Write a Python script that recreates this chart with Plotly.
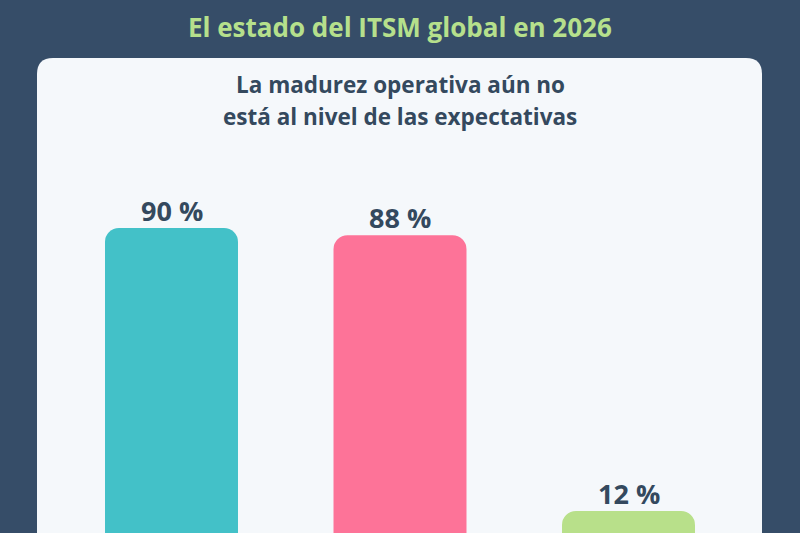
import plotly.graph_objects as go

categories = ["A", "B", "C"]
values = [90, 88, 12]
labels = ["90 %", "88 %", "12 %"]
colors = ["#43c1c8", "#fd7398", "#b8e08a"]

title_text = "El estado del ITSM global en 2026"
subtitle_lines = ["La madurez operativa aún no", "está al nivel de las expectativas"]

W, H = 800, 533
BG = "#364d68"
PANEL = "#f5f8fb"
DARK = "#34495e"

fig = go.Figure()
fig.add_trace(go.Bar(
    x=list(range(len(categories))),
    y=values,
    marker=dict(color=colors, cornerradius=14, line=dict(width=0)),
    width=0.582,
    hoverinfo="skip",
    cliponaxis=True,
))

for i, (v, lab) in enumerate(zip(values, labels)):
    fig.add_annotation(x=i, y=v, text=lab, showarrow=False, xref="x", yref="y",
                       xanchor="center", yanchor="middle", yshift=18,
                       font=dict(family="Open Sans", size=27, color=DARK, weight="bold"))

# panel with rounded top corners (paper coords)
x0, x1 = 37 / W, 762 / W
y1 = 1 - 58 / H
y0 = -0.05
rx, ry = 16 / W, 16 / H
path = (f"M {x0},{y0} L {x0},{y1-ry} Q {x0},{y1} {x0+rx},{y1} "
        f"L {x1-rx},{y1} Q {x1},{y1} {x1},{y1-ry} L {x1},{y0} Z")
fig.add_shape(type="path", path=path, xref="paper", yref="paper",
              fillcolor=PANEL, line=dict(width=0), layer="below")

fig.add_annotation(text=title_text, xref="paper", yref="paper",
                   x=0.5, y=1 - 27 / H, showarrow=False, xanchor="center", yanchor="middle",
                   font=dict(family="Open Sans", size=26, color="#b6e08c", weight="bold"))
for yy, line in zip([84, 116], subtitle_lines):
    fig.add_annotation(text=line, xref="paper", yref="paper",
                       x=0.5, y=1 - yy / H, showarrow=False, xanchor="center", yanchor="middle",
                       font=dict(family="Open Sans", size=22.5, color=DARK, weight="bold"))

px_per = (511 - 228) / (90 - 12)
base_px = 228 + 90 * px_per
ymax = base_px / px_per
ymin = (base_px - H) / px_per

fig.update_layout(
    width=W, height=H,
    margin=dict(l=0, r=0, t=0, b=0),
    paper_bgcolor=BG,
    plot_bgcolor="rgba(0,0,0,0)",
    showlegend=False,
    xaxis=dict(domain=[57.25 / W, 742.75 / W], range=[-0.5, 2.5], visible=False, fixedrange=True),
    yaxis=dict(domain=[0, 1], range=[ymin, ymax], visible=False, fixedrange=True),
)

fig.write_html("out.html")
